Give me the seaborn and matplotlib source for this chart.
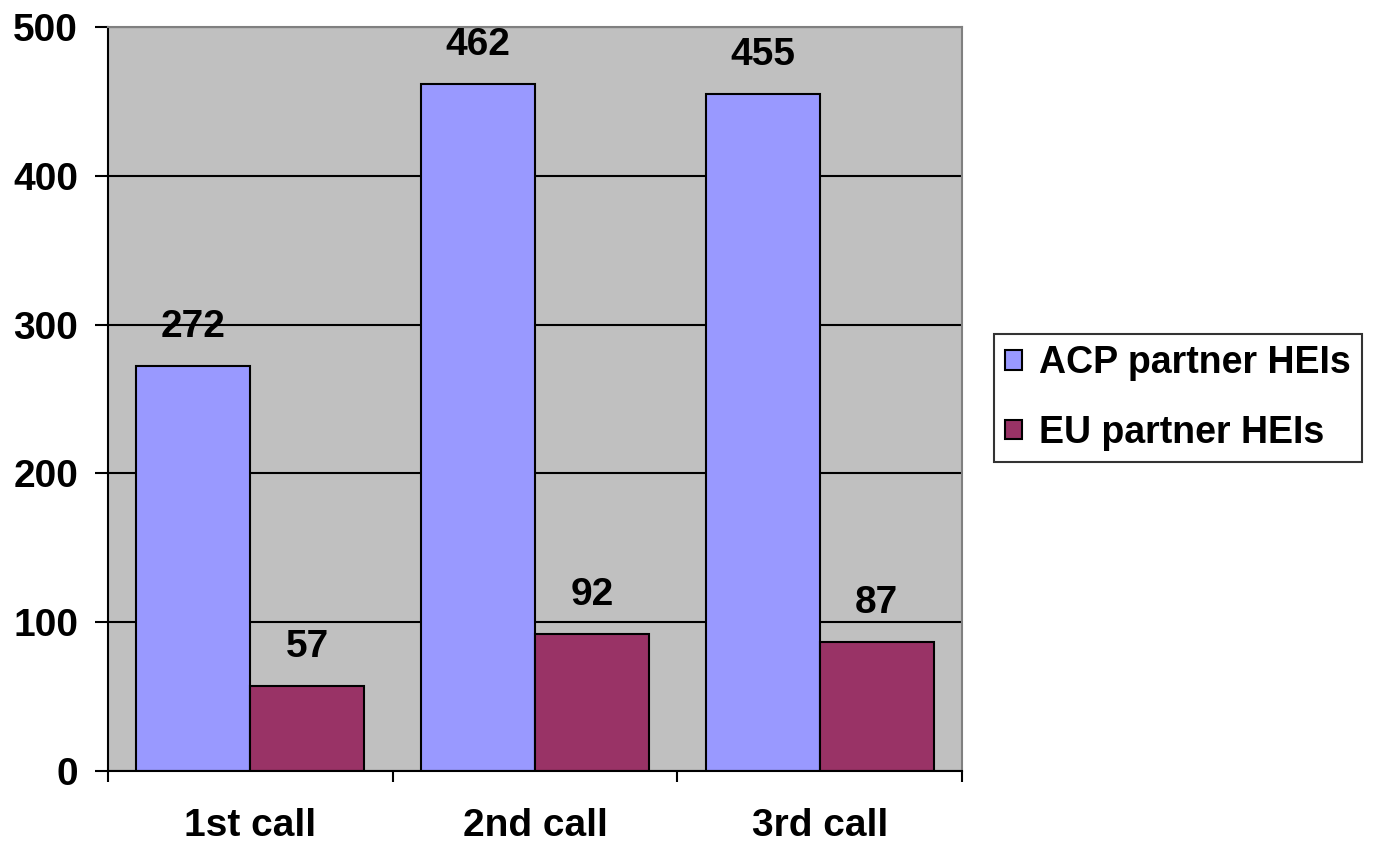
import matplotlib
matplotlib.use("Agg")
import matplotlib.pyplot as plt
import seaborn as sns
import pandas as pd
from matplotlib.ticker import FixedLocator

categories = ["1st call", "2nd call", "3rd call"]
series_names = ["ACP partner HEIs", "EU partner HEIs"]
acp_values = [272, 462, 455]
eu_values = [57, 92, 87]
y_ticks = [0, 100, 200, 300, 400, 500]
colors = ["#9999FF", "#993366"]

df = pd.DataFrame({
    "call": categories * 2,
    "series": [series_names[0]] * 3 + [series_names[1]] * 3,
    "value": acp_values + eu_values,
})

sns.set_theme(style="white")
plt.rcParams["font.family"] = ["Liberation Sans", "DejaVu Sans"]
plt.rcParams["font.weight"] = "bold"
plt.rcParams["text.color"] = "black"
plt.rcParams["xtick.color"] = "black"
plt.rcParams["ytick.color"] = "black"
plt.rcParams["axes.labelcolor"] = "black"

FS = 28

fig = plt.figure(figsize=(13.75, 8.44), dpi=100)
ax = fig.add_axes([108/1375, 1-771/844, (962-108)/1375, (771-27)/844])
ax.set_facecolor("#C0C0C0")

sns.barplot(data=df, x="call", y="value", hue="series", palette=colors,
            edgecolor="black", linewidth=1.5, width=0.8, saturation=1,
            ax=ax, errorbar=None)

ax.set_ylim(0, 500)
ax.set_xlim(-0.5, 2.5)
ax.set_yticks(y_ticks)
ax.set_axisbelow(True)
ax.yaxis.grid(True, color="black", linewidth=1.5)
ax.xaxis.grid(False)

for c in ax.containers:
    ax.bar_label(c, padding=15, fontsize=FS, fontweight="bold", color="black")

ax.set_xlabel("")
ax.set_ylabel("")
ax.tick_params(axis="y", which="major", length=9.5, width=1.5, color="black",
               pad=12, labelsize=FS, direction="out", left=True, labelcolor="black")
ax.tick_params(axis="x", which="major", length=0, pad=27, labelsize=FS, labelcolor="black")
ax.xaxis.set_minor_locator(FixedLocator([-0.5, 0.5, 1.5, 2.5]))
ax.tick_params(axis="x", which="minor", length=8, width=1.5, color="black",
               direction="out", bottom=True)
for lab in ax.get_xticklabels() + ax.get_yticklabels():
    lab.set_fontweight("bold")

for side in ["left", "bottom"]:
    ax.spines[side].set_color("black")
    ax.spines[side].set_linewidth(1.5)
for side in ["top", "right"]:
    ax.spines[side].set_color("#808080")
    ax.spines[side].set_linewidth(1.5)

handles, labels = ax.get_legend_handles_labels()
ax.legend_.remove()
leg = fig.legend(handles, labels, loc="center left",
                 bbox_to_anchor=(994/1375, 1-398/844),
                 frameon=True, fancybox=False, edgecolor="black",
                 prop={"weight": "bold", "size": 27},
                 handlelength=0.44, handleheight=0.44, handletextpad=0.45,
                 borderpad=0.3, labelspacing=0.9, borderaxespad=0)
leg.get_frame().set_linewidth(1.5)
for t in leg.get_texts():
    t.set_color("black")

fig.savefig("out.png", dpi=100)
